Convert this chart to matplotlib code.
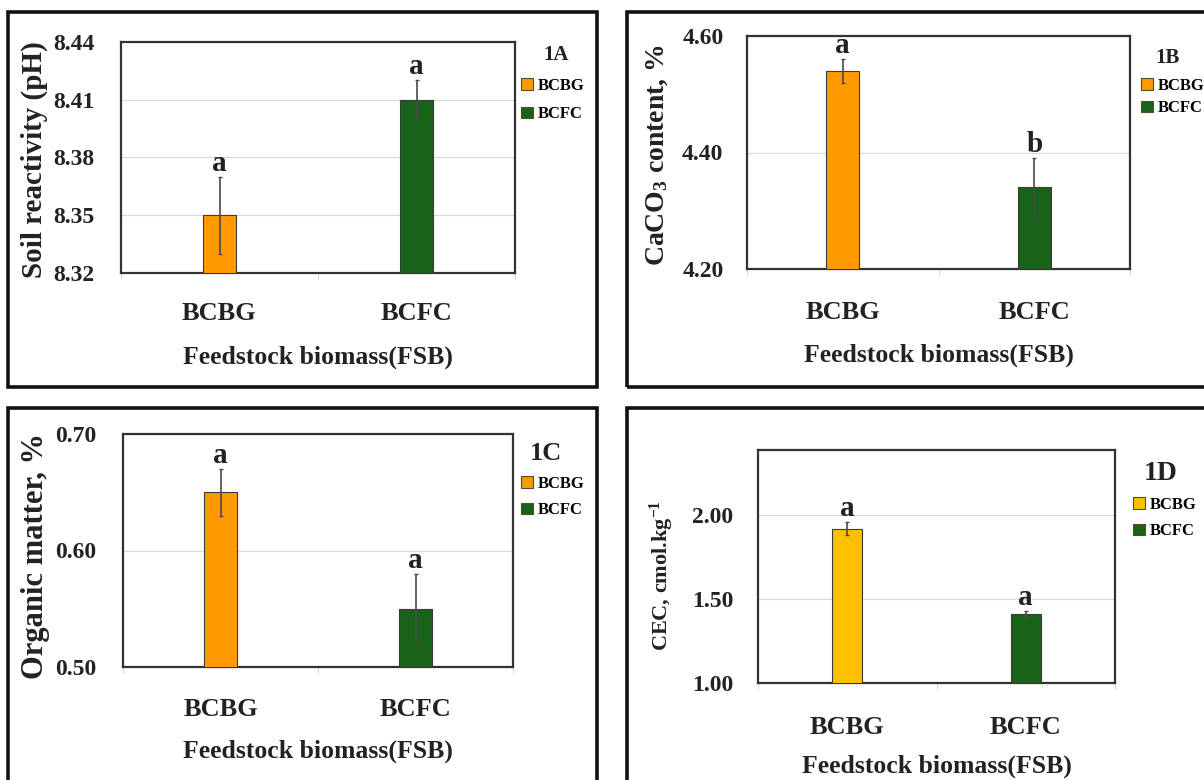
import matplotlib
matplotlib.use("Agg")
import matplotlib.pyplot as plt
from matplotlib.patches import Patch, Rectangle

plt.rcParams['font.family'] = ['Liberation Serif', 'DejaVu Serif']
plt.rcParams['font.weight'] = 'bold'
plt.rcParams['mathtext.default'] = 'regular'

# ---------------- data ----------------
categories = ["BCBG", "BCFC"]
panel_ids = ["1A", "1B", "1C", "1D"]

ph_values = [8.35, 8.41]
ph_errors = [0.02, 0.01]
ph_letters = ["a", "a"]
ph_ticks = [8.32, 8.35, 8.38, 8.41, 8.44]

caco3_values = [4.54, 4.34]
caco3_errors = [0.02, 0.05]
caco3_letters = ["a", "b"]
caco3_ticks = [4.20, 4.40, 4.60]

om_values = [0.65, 0.55]
om_errors = [0.02, 0.03]
om_letters = ["a", "a"]
om_ticks = [0.50, 0.60, 0.70]

cec_values = [1.92, 1.41]
cec_errors = [0.04, 0.02]
cec_letters = ["a", "a"]
cec_ticks = [1.00, 1.50, 2.00]

ylabels = ["Soil reactivity (pH)", "CaCO$_3$ content, %",
           "Organic matter, %", "CEC, cmol.kg$^{-1}$"]
xlabel = "Feedstock biomass(FSB)"

orange = "#FF9900"
gold = "#FFC000"
green = "#196219"

W, H = 1204, 780
fig = plt.figure(figsize=(W / 100, H / 100), dpi=100)
fig.patch.set_facecolor("white")


def fbox(x0, y0, x1, y1):
    return [x0 / W, 1 - y1 / H, (x1 - x0) / W, (y1 - y0) / H]


def frame(x0, y0, x1, y1):
    fig.patches.append(Rectangle((x0 / W, 1 - y1 / H), (x1 - x0) / W, (y1 - y0) / H,
                                 transform=fig.transFigure, fill=False,
                                 edgecolor="#111111", linewidth=2.6, zorder=0))


panels = [
    dict(vals=ph_values, errs=ph_errors, letters=ph_letters, ticks=ph_ticks,
         ylim=(8.32, 8.44), fmt="{:.2f}", colors=[orange, green],
         ax=(121, 42, 515, 273), frame=(8, 12, 597, 387), ylab_x=34, ylab_y=160,
         ylab_fs=21, tickpad=19, xtpad=21, xlab_y=357,
         leg=(521, 78), title_xy=(556, 55), title_fs=15, lsp=0.74),
    dict(vals=caco3_values, errs=caco3_errors, letters=caco3_letters, ticks=caco3_ticks,
         ylim=(4.20, 4.60), fmt="{:.2f}", colors=[orange, green],
         ax=(747, 36, 1130, 269), frame=(627, 12, 1215, 387), ylab_x=657, ylab_y=155,
         ylab_fs=20, tickpad=17, xtpad=23, xlab_y=355,
         leg=(1141, 78), title_xy=(1168, 58), title_fs=15, lsp=0.38),
    dict(vals=om_values, errs=om_errors, letters=om_letters, ticks=om_ticks,
         ylim=(0.50, 0.70), fmt="{:.2f}", colors=[orange, green],
         ax=(123, 434, 513, 667), frame=(8, 408, 597, 790), ylab_x=36, ylab_y=556,
         ylab_fs=22, tickpad=19, xtpad=22, xlab_y=751,
         leg=(521, 476), title_xy=(546, 453), title_fs=19, lsp=0.62),
    dict(vals=cec_values, errs=cec_errors, letters=cec_letters, ticks=cec_ticks,
         ylim=(1.00, 2.39), fmt="{:.2f}", colors=[gold, green],
         ax=(758, 450, 1115, 683), frame=(627, 408, 1215, 790), ylab_x=662, ylab_y=576,
         ylab_fs=16, tickpad=18, xtpad=24, xlab_y=766,
         leg=(1133, 497), title_xy=(1161, 474), title_fs=20, lsp=0.62),
]

for p, pid, ylab in zip(panels, panel_ids, ylabels):
    frame(*p["frame"])
    ax = fig.add_axes(fbox(*p["ax"]))
    x = list(range(len(categories)))
    ax.bar(x, p["vals"], width=0.17, color=p["colors"], edgecolor="#3a3a3a",
           linewidth=0.8, zorder=3)
    ax.errorbar(x, p["vals"], yerr=p["errs"], fmt="none", ecolor="#4a4a4a",
                elinewidth=1.2, capsize=1.5, capthick=1.0, zorder=4)
    for xi, v, e, lt in zip(x, p["vals"], p["errs"], p["letters"]):
        ax.annotate(lt, (xi, v + e), xytext=(0, 0), textcoords="offset points",
                    ha="center", va="bottom", fontsize=21, fontweight="bold",
                    color="#222222", zorder=5)
    ax.set_xlim(-0.5, 1.5)
    ax.set_ylim(*p["ylim"])
    ax.set_yticks(p["ticks"])
    ax.set_yticklabels([p["fmt"].format(t) for t in p["ticks"]], fontsize=17,
                       fontweight="bold", color="#222222")
    ax.set_xticks(x)
    ax.set_xticklabels(categories, fontsize=19, fontweight="bold", color="#222222")
    ax.tick_params(axis="y", length=0, pad=p["tickpad"])
    ax.tick_params(axis="x", length=0, pad=p["xtpad"])
    ax.set_xticks([-0.5, 0.5, 1.5], minor=True)
    ax.tick_params(axis="x", which="minor", length=4, color="#d0d0d0", direction="out")
    ax.grid(axis="y", color="#d9d9d9", linewidth=0.9, zorder=0)
    ax.set_axisbelow(True)
    for s in ax.spines.values():
        s.set_color("#333333")
        s.set_linewidth(1.6)
    x0, y0, x1, y1 = p["ax"]
    fig.text(p["ylab_x"] / W, 1 - p["ylab_y"] / H, ylab, rotation=90,
             ha="center", va="center", fontsize=p["ylab_fs"], fontweight="bold",
             color="#222222")
    fig.text(((x0 + x1) / 2) / W, 1 - p["xlab_y"] / H, xlabel, ha="center",
             va="center", fontsize=18.5, fontweight="bold", color="#222222")
    handles = [Patch(facecolor=c, edgecolor="#5a4a2a", linewidth=0.8) for c in p["colors"]]
    lx, ly = p["leg"]
    ax.legend(handles, categories, loc="upper left",
              bbox_to_anchor=(lx / W, 1 - ly / H), bbox_transform=fig.transFigure,
              frameon=False, borderpad=0, borderaxespad=0, handlelength=0.7,
              handleheight=0.7, handletextpad=0.3, labelspacing=p["lsp"],
              prop={"size": 12, "weight": "bold"})
    tx, ty = p["title_xy"]
    fig.text(tx / W, 1 - ty / H, pid, ha="center", va="center",
             fontsize=p["title_fs"], fontweight="bold", color="#222222")

fig.savefig("out.png", dpi=100, facecolor="white")
